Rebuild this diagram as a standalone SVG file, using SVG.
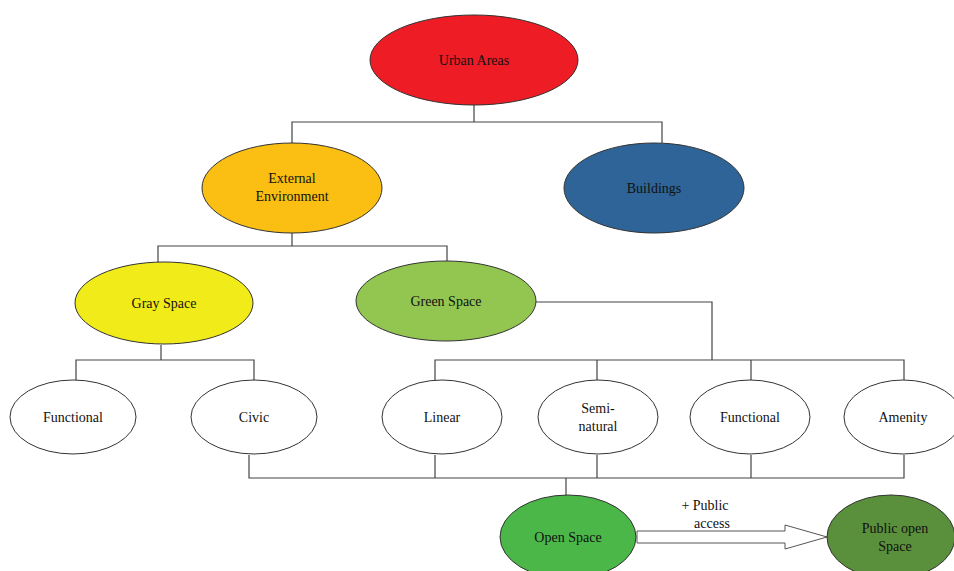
<svg xmlns="http://www.w3.org/2000/svg" width="954" height="571" viewBox="0 0 954 571">
<style>
.n{stroke:#333;stroke-width:1}
.t{font-family:"Liberation Serif","Times New Roman",serif;font-size:14px;fill:#111;text-anchor:middle}
.c{fill:none;stroke:#444;stroke-width:1.2}
</style>
<rect width="954" height="571" fill="#fff"/>
<g id="connectors">
<path class="c" d="M474 105V122M292 143V122H662V143"/>
<path class="c" d="M292 233V246M158 263V246H447V262"/>
<path class="c" d="M161 345V360M76 380V360H254V380"/>
<path class="c" d="M536 302H712V360M435 380V360H904V380M597 360V380M751 360V380"/>
<path class="c" d="M249 455V478H904V455M435 455V478M597 455V478M751 455V478M566 478V496"/>
<path d="M637 531H785V525L827 537L785 549V543H637Z" fill="#fff" stroke="#555" stroke-width="1"/>
<text class="t" x="705" y="510">+ Public</text>
<text class="t" x="712" y="528">access</text>
</g>
<g id="urban"><ellipse class="n" cx="474" cy="60" rx="104" ry="45" fill="#ee1c25"/><text class="t" x="474" y="65">Urban Areas</text></g>
<g id="external"><ellipse class="n" cx="292" cy="188" rx="90" ry="45" fill="#fbbf13"/><text class="t" x="292" y="183">External</text><text class="t" x="292" y="201">Environment</text></g>
<g id="buildings"><ellipse class="n" cx="654" cy="188" rx="90" ry="45" fill="#2e6497"/><text class="t" x="654" y="193">Buildings</text></g>
<g id="gray"><ellipse class="n" cx="164" cy="303" rx="89" ry="41" fill="#f2eb1a"/><text class="t" x="164" y="308">Gray Space</text></g>
<g id="green"><ellipse class="n" cx="446" cy="301" rx="90" ry="40" fill="#92c650"/><text class="t" x="446" y="306">Green Space</text></g>
<g id="functional1"><ellipse class="n" cx="73" cy="417" rx="63" ry="37" fill="#fff"/><text class="t" x="73" y="422">Functional</text></g>
<g id="civic"><ellipse class="n" cx="254" cy="417" rx="63" ry="37" fill="#fff"/><text class="t" x="254" y="422">Civic</text></g>
<g id="linear"><ellipse class="n" cx="442" cy="417" rx="60" ry="37" fill="#fff"/><text class="t" x="442" y="422">Linear</text></g>
<g id="seminatural"><ellipse class="n" cx="598" cy="417" rx="60" ry="37" fill="#fff"/><text class="t" x="598" y="413">Semi-</text><text class="t" x="598" y="431">natural</text></g>
<g id="functional2"><ellipse class="n" cx="750" cy="417" rx="60" ry="37" fill="#fff"/><text class="t" x="750" y="422">Functional</text></g>
<g id="amenity"><ellipse class="n" cx="903" cy="417" rx="59" ry="37" fill="#fff"/><text class="t" x="903" y="422">Amenity</text></g>
<g id="open"><ellipse class="n" cx="568" cy="537" rx="68" ry="42" fill="#4bb748"/><text class="t" x="568" y="542">Open Space</text></g>
<g id="publicopen"><ellipse class="n" cx="891" cy="537" rx="64" ry="42" fill="#5a8f3b"/><text class="t" x="895" y="533">Public open</text><text class="t" x="895" y="551">Space</text></g>
</svg>
